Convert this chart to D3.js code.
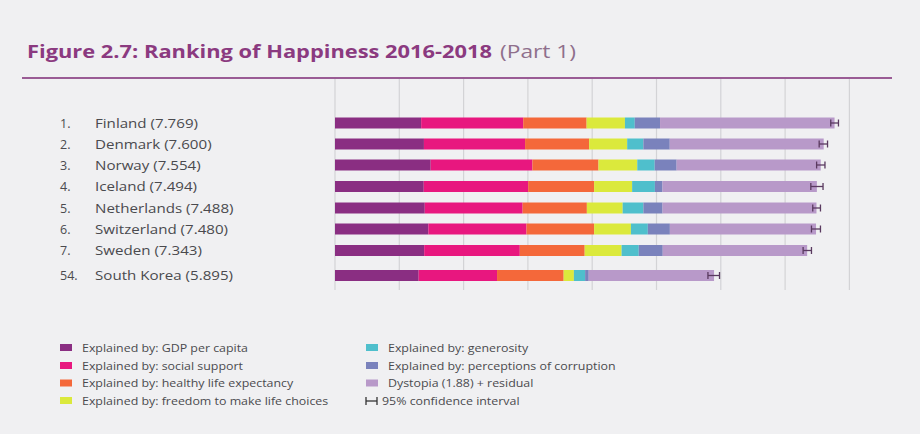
<!DOCTYPE html>
<html><head><meta charset="utf-8">
<script src="https://cdnjs.cloudflare.com/ajax/libs/d3/7.8.5/d3.min.js"></script>
<style>html,body{margin:0;padding:0;background:#f0f0f2;}svg{display:block;}</style>
</head><body><svg id="c" width="920" height="434"></svg>
<script>
const ranks = ["1.","2.","3.","4.","5.","6.","7.","54."];
const countries = ["Finland","Denmark","Norway","Iceland","Netherlands","Switzerland","Sweden","South Korea"];
const scores = [7.769,7.600,7.554,7.494,7.488,7.480,7.343,5.895];
const gdp        = [1.340,1.383,1.488,1.380,1.396,1.452,1.387,1.301];
const social     = [1.587,1.573,1.582,1.624,1.522,1.526,1.487,1.219];
const health     = [0.986,0.996,1.028,1.026,0.999,1.052,1.009,1.036];
const freedom    = [0.596,0.592,0.603,0.591,0.557,0.572,0.574,0.159];
const generosity = [0.153,0.252,0.271,0.354,0.322,0.263,0.267,0.175];
const corruption = [0.393,0.410,0.341,0.118,0.298,0.343,0.373,0.056];
const dystopia   = [2.714,2.394,2.241,2.401,2.394,2.273,2.246,1.949];
const ciLow  = [7.71,7.53,7.49,7.40,7.43,7.41,7.28,5.80];
const ciHigh = [7.83,7.66,7.62,7.59,7.55,7.55,7.41,5.98];
const xTicks = [0,1,2,3,4,5,6,7,8];
const seriesNames = ["Explained by: GDP per capita","Explained by: social support","Explained by: healthy life expectancy","Explained by: freedom to make life choices","Explained by: generosity","Explained by: perceptions of corruption","Dystopia (1.88) + residual"];
const seriesColors = ["#8a2e82","#e8177f","#f4683a","#dbe93c","#4fbfcc","#7a82bc","#b899c9"];
const ciLabel = "95% confidence interval";

const svg = d3.select("#c");
svg.append("rect").attr("width",920).attr("height",434).attr("fill","#f0f0f2");

function stretch(sel, f){
  sel.each(function(){ const w=this.getComputedTextLength(); d3.select(this).attr("textLength",w*f).attr("lengthAdjust","spacingAndGlyphs"); });
}

// title
const t1 = svg.append("text").attr("x",27).attr("y",57.5)
  .style("font-family","'Open Sans',sans-serif").style("font-size","18.5px")
  .attr("font-weight","bold").attr("fill","#8b3a80")
  .text("Figure 2.7: Ranking of Happiness 2016-2018");
{ const w=t1.node().getComputedTextLength(); t1.attr("textLength",465).attr("lengthAdjust","spacingAndGlyphs"); }
const t2 = svg.append("text").attr("x",500).attr("y",57.5)
  .style("font-family","'Open Sans',sans-serif").style("font-size","18.5px")
  .attr("fill","#8f6f8c").text("(Part 1)");
t2.attr("textLength",76).attr("lengthAdjust","spacingAndGlyphs");
svg.append("line").attr("x1",22).attr("x2",892).attr("y1",78).attr("y2",78)
  .attr("stroke","#9a5c95").attr("stroke-width",2);

const x = d3.scaleLinear().domain([0,8]).range([335,849.4]);
const rowY = [123,144,165,186.5,208,229,250.5,275.5];
const barH = 11;

// gridlines
svg.append("g").selectAll("line").data(xTicks).join("line")
  .attr("x1",d=>x(d)).attr("x2",d=>x(d)).attr("y1",79).attr("y2",290)
  .attr("stroke","#d3d3d6").attr("stroke-width",1.2);

// stacked bars
const series = [gdp,social,health,freedom,generosity,corruption,dystopia];
const rows = countries.map((c,i)=>{ const o={i}; series.forEach((s,k)=>o["s"+k]=s[i]); return o; });
const stack = d3.stack().keys(series.map((s,k)=>"s"+k))(rows);
svg.append("g").selectAll("g").data(stack).join("g")
  .attr("fill",(d,k)=>seriesColors[k])
  .selectAll("rect").data(d=>d).join("rect")
  .attr("x",d=>x(d[0])).attr("width",d=>x(d[1])-x(d[0]))
  .attr("y",d=>rowY[d.data.i]-barH/2).attr("height",barH);

// confidence intervals
const ci = svg.append("g").attr("stroke","#5a3a60").attr("stroke-width",1.3);
countries.forEach((c,i)=>{
  ci.append("line").attr("x1",x(ciLow[i])).attr("x2",x(ciHigh[i])).attr("y1",rowY[i]).attr("y2",rowY[i]);
  [ciLow[i],ciHigh[i]].forEach(v=>ci.append("line").attr("x1",x(v)).attr("x2",x(v)).attr("y1",rowY[i]-3.5).attr("y2",rowY[i]+3.5));
});

// labels
const lab = svg.append("g").style("font-family","'Open Sans',sans-serif").style("font-size","12.5px").attr("fill","#4a4a4e");
countries.forEach((c,i)=>{
  lab.append("text").attr("x",60).attr("y",rowY[i]+4.5).text(ranks[i]);
  lab.append("text").attr("class","nm").attr("x",95).attr("y",rowY[i]+4.5).text(c+" ("+scores[i].toFixed(3)+")");
});
{ const n0 = lab.select(".nm").node(); const f = 103/n0.getComputedTextLength(); stretch(lab.selectAll(".nm"), f); }

// legend
const leg = svg.append("g").style("font-family","'Open Sans',sans-serif").style("font-size","10px").attr("fill","#4a4a4e");
const legY = [348,366,383.5,401];
seriesNames.forEach((n,k)=>{
  const col = k<4?0:1, r = k<4?k:k-4;
  const lx = col===0?60:366, ty = legY[r];
  leg.append("rect").attr("x",lx).attr("y",ty-4).attr("width",12).attr("height",7).attr("fill",seriesColors[k]);
  leg.append("text").attr("class","lt").attr("x",lx+22).attr("y",ty+3.5).text(n);
});
const cx0=366, cy0=legY[3];
leg.append("line").attr("x1",cx0).attr("x2",cx0+11).attr("y1",cy0).attr("y2",cy0).attr("stroke","#333").attr("stroke-width",1.3);
leg.append("line").attr("x1",cx0).attr("x2",cx0).attr("y1",cy0-4).attr("y2",cy0+4).attr("stroke","#333").attr("stroke-width",1.3);
leg.append("line").attr("x1",cx0+11).attr("x2",cx0+11).attr("y1",cy0-4).attr("y2",cy0+4).attr("stroke","#333").attr("stroke-width",1.3);
leg.append("text").attr("class","lt").attr("x",cx0+16).attr("y",cy0+3.5).text(ciLabel);
{ const n0 = leg.select(".lt").node(); const f = 166/n0.getComputedTextLength(); stretch(leg.selectAll(".lt"), f); }
</script></body></html>
